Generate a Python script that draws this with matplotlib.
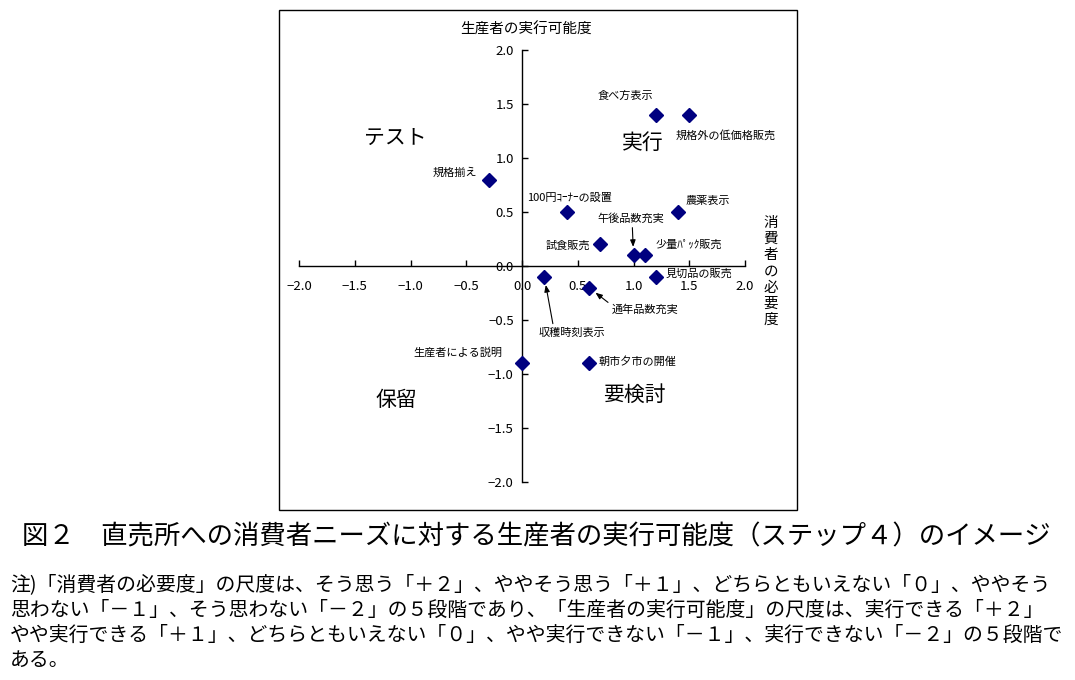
import matplotlib
matplotlib.use("Agg")
import matplotlib.pyplot as plt
from matplotlib.patches import Rectangle

plt.rcParams['font.family'] = ['Noto Sans CJK JP', 'DejaVu Sans']
plt.rcParams['axes.unicode_minus'] = True

# ---- data ----
names = ["食べ方表示", "規格外の低価格販売", "規格揃え", "100円ｺｰﾅｰの設置", "農薬表示",
         "試食販売", "午後品数充実", "少量ﾊﾟｯｸ販売", "見切品の販売", "収穫時刻表示",
         "通年品数充実", "生産者による説明", "朝市夕市の開催"]
need = [1.2, 1.5, -0.3, 0.4, 1.4, 0.7, 1.0, 1.1, 1.2, 0.2, 0.6, 0.0, 0.6]      # 消費者の必要度
feas = [1.4, 1.4, 0.8, 0.5, 0.5, 0.2, 0.1, 0.1, -0.1, -0.1, -0.2, -0.9, -0.9]  # 生産者の実行可能度
ticks = [-2.0, -1.5, -1.0, -0.5, 0.0, 0.5, 1.0, 1.5, 2.0]
quadrants = ["テスト", "実行", "保留", "要検討"]

caption = "図２　直売所への消費者ニーズに対する生産者の実行可能度（ステップ４）のイメージ"
notes = [
    "注)「消費者の必要度」の尺度は、そう思う「＋２」、ややそう思う「＋１」、どちらともいえない「０」、ややそう",
    "思わない「－１」、そう思わない「－２」の５段階であり、「生産者の実行可能度」の尺度は、実行できる「＋２」",
    "やや実行できる「＋１」、どちらともいえない「０」、やや実行できない「－１」、実行できない「－２」の５段階で",
    "ある。",
]

# ---- label layout (offsets in pixels, alignment, arrow) ----
label_style = {
    "食べ方表示": ((-58, 19), "left", None),
    "規格外の低価格販売": ((-14, -21), "left", None),
    "規格揃え": ((-11, 7), "right", None),
    "100円ｺｰﾅｰの設置": ((-40, 14), "left", None),
    "農薬表示": ((7, 11), "left", None),
    "試食販売": ((-10, -1), "right", None),
    "午後品数充実": ((-36, 37), "left", (0.52, 0.0)),
    "少量ﾊﾟｯｸ販売": ((11, 11), "left", None),
    "見切品の販売": ((10, 3), "left", None),
    "収穫時刻表示": ((28, -56), "center", (0.22, 1.0)),
    "通年品数充実": ((23, -22), "left", (0.0, 0.9)),
    "生産者による説明": ((-20, 11), "right", None),
    "朝市夕市の開催": ((10, 2), "left", None),
}

W, H = 1075, 680
fig = plt.figure(figsize=(W / 100, H / 100), dpi=100)
fig.patch.set_facecolor("white")

# outer chart frame
fig.add_artist(Rectangle((279 / W, 1 - 510 / H), 518 / W, 500 / H,
                         transform=fig.transFigure, fill=False,
                         edgecolor="black", linewidth=1.0))

ax = fig.add_axes([299 / W, 1 - 482 / H, 446 / W, 432 / H])
ax.set_xlim(-2, 2)
ax.set_ylim(-2, 2)
ax.set_facecolor("none")
for s in ["top", "right"]:
    ax.spines[s].set_visible(False)
ax.spines["left"].set_position(("data", 0))
ax.spines["bottom"].set_position(("data", 0))
for s in ["left", "bottom"]:
    ax.spines[s].set_linewidth(1.0)
ax.set_xticks(ticks)
ax.set_yticks(ticks)
ax.set_xticklabels([f"{t:.1f}".replace("-", "−") for t in ticks])
ax.set_yticklabels([f"{t:.1f}".replace("-", "−") for t in ticks])
ax.tick_params(axis="both", direction="in", length=4, width=1, labelsize=9.5)
ax.tick_params(axis="x", pad=10)
ax.tick_params(axis="y", pad=6)

ax.plot(need, feas, linestyle="none", marker="D", markersize=6.8,
        color="#000080", clip_on=False, zorder=5)

for n, x, y in zip(names, need, feas):
    (dx, dy), ha, rel = label_style[n]
    kw = {}
    if rel is not None:
        kw["arrowprops"] = dict(arrowstyle="-|>,head_length=0.5,head_width=0.2",
                                color="black", lw=0.8, relpos=rel,
                                shrinkA=1, shrinkB=6)
    ax.annotate(n, (x, y), xytext=(dx, dy), textcoords="offset pixels",
                ha=ha, va="center", fontsize=8, annotation_clip=False, **kw)

# quadrant labels
qpos = [(-1.14, 1.19), (1.08, 1.14), (-1.13, -1.24), (1.01, -1.19)]
for q, (qx, qy) in zip(quadrants, qpos):
    ax.text(qx, qy, q, ha="center", va="center", fontsize=15)

# axis titles
ax.text(0.04, 2.19, "生産者の実行可能度", ha="center", va="center", fontsize=10.5,
        clip_on=False)
ax.text(2.23, -0.05, "\n".join("消費者の必要度"), ha="center", va="center",
        fontsize=10.5, linespacing=1.2, clip_on=False)

# caption and notes
fig.text(22 / W, 1 - 537 / H, caption, ha="left", va="center", fontsize=19)
for i, line in enumerate(notes):
    fig.text(10 / W, 1 - (585 + i * 25.3) / H, line, ha="left", va="center",
             fontsize=14.3)

fig.savefig("out.png", dpi=100, facecolor="white")
